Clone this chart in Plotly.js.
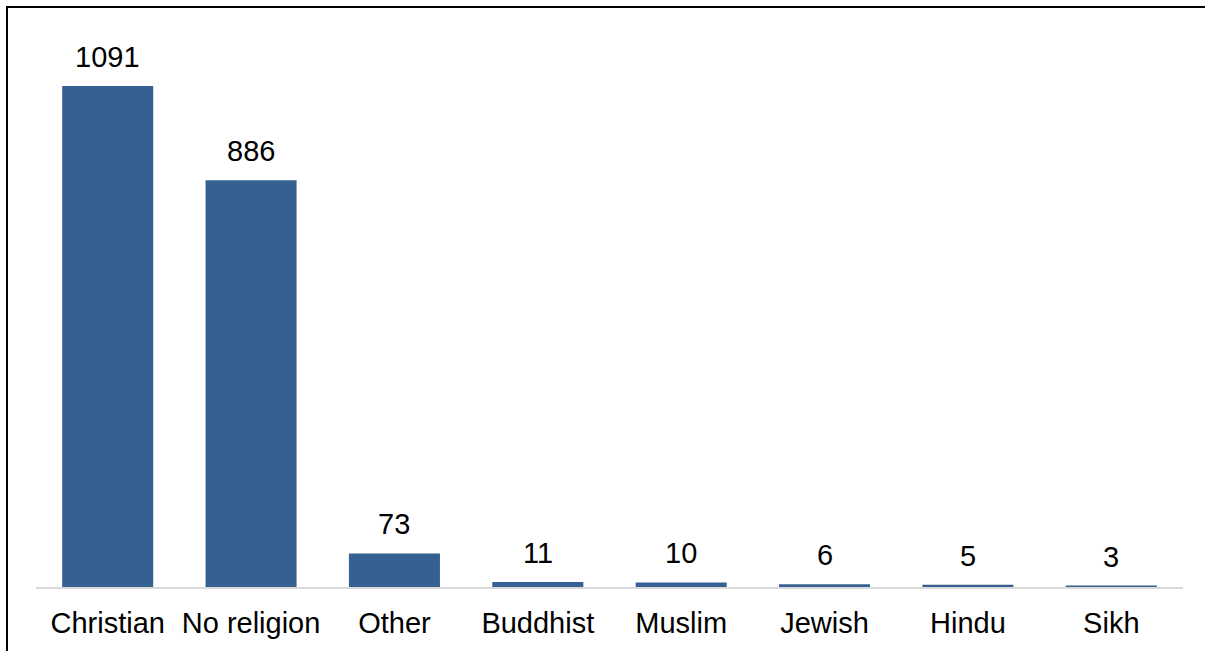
<!DOCTYPE html>
<html>
<head>
<meta charset="utf-8">
<script src="https://cdn.plot.ly/plotly-3.0.1.min.js"></script>
<style>
  html, body { margin: 0; padding: 0; background: #fff; }
  #wrap { position: relative; width: 1205px; height: 651px; overflow: hidden; }
  #chart { position: absolute; left: 0; top: 0; width: 1205px; height: 651px; }
  #frame { position: absolute; left: 6px; top: 6px; width: 1300px; height: 700px;
           border-left: 2px solid #000; border-top: 2px solid #000; pointer-events: none; }
</style>
</head>
<body>
<div id="wrap">
  <div id="chart"></div>
  <div id="frame"></div>
</div>
<script>
const categories = ["Christian", "No religion", "Other", "Buddhist", "Muslim", "Jewish", "Hindu", "Sikh"];
const counts = [1091, 886, 73, 11, 10, 6, 5, 3];
const barColor = "#376092";
const fontFamily = "Liberation Sans, Arial, sans-serif";

const trace = {
  type: "bar",
  x: categories,
  y: counts,
  marker: { color: barColor, line: { width: 0 } },
  hoverinfo: "x+y"
};

const annotations = categories.map((c, i) => ({
  x: c,
  y: counts[i],
  xref: "x",
  yref: "y",
  text: String(counts[i]),
  showarrow: false,
  yanchor: "bottom",
  yshift: 11,
  font: { family: fontFamily, size: 29, color: "#000" }
}));

const layout = {
  width: 1205,
  height: 651,
  margin: { l: 36, r: 22, t: 36, b: 64 },
  paper_bgcolor: "rgba(0,0,0,0)",
  plot_bgcolor: "rgba(0,0,0,0)",
  showlegend: false,
  bargap: 0.365,
  font: { family: fontFamily, size: 29, color: "#000" },
  xaxis: {
    type: "category",
    showline: true,
    linecolor: "#d9d9d9",
    linewidth: 2,
    ticks: "",
    showgrid: false,
    zeroline: false,
    tickfont: { family: fontFamily, size: 29, color: "#000" },
    ticklabelstandoff: 9
  },
  yaxis: {
    range: [0, 1200],
    showgrid: false,
    zeroline: false,
    showline: false,
    showticklabels: false,
    ticks: ""
  },
  annotations: annotations
};

Plotly.newPlot("chart", [trace], layout, { displayModeBar: false, staticPlot: true });
</script>
</body>
</html>
